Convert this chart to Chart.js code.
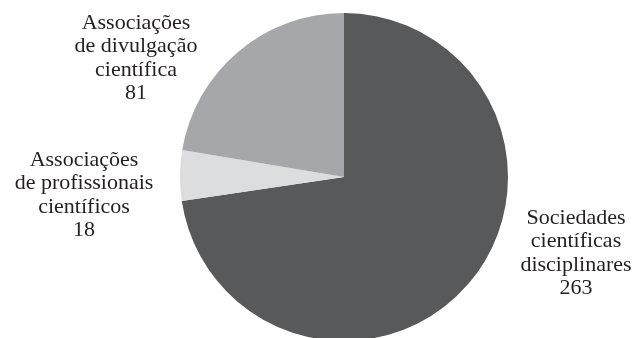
<!DOCTYPE html>
<html><head><meta charset="utf-8">
<script src="https://cdn.jsdelivr.net/npm/chart.js@4.4.1/dist/chart.umd.min.js"></script>
</head>
<body style="margin:0; overflow:hidden; background:#fff">
<canvas id="pieChart" width="639" height="350"></canvas>
<script>
// Sociedades e associações científicas por tipo
const categories = [
    ['Sociedades', 'científicas', 'disciplinares'],
    ['Associações', 'de profissionais', 'científicos'],
    ['Associações', 'de divulgação', 'científica']
];
const counts = [263, 18, 81];
const sliceColors = ['#58595b', '#dcdddf', '#a6a7aa'];

// centre of each text block (canvas px)
const labelAnchors = [
    { x: 576, y: 252 },
    { x: 84, y: 194 },
    { x: 136, y: 57 }
];
const lineH = 23.5;

const outsideLabels = {
    id: 'outsideLabels',
    afterDraw(chart) {
        const ctx = chart.ctx;
        const ds = chart.data.datasets[0];
        ctx.save();
        ctx.font = '22px Times, serif';
        ctx.fillStyle = '#231f20';
        chart.data.labels.forEach((lbl, i) => {
            const lines = lbl.concat(String(ds.data[i]));
            const a = labelAnchors[i];
            const y0 = a.y - (lines.length - 1) * lineH / 2 + 7;
            lines.forEach((t, j) => {
                const w = ctx.measureText(t).width;
                ctx.fillText(t, a.x - w / 2, y0 + j * lineH);
            });
        });
        ctx.restore();
    }
};

new Chart(document.getElementById('pieChart'), {
    type: 'pie',
    data: {
        labels: categories,
        datasets: [{
            data: counts,
            backgroundColor: sliceColors,
            borderWidth: 0
        }]
    },
    options: {
        responsive: false,
        animation: false,
        layout: { padding: { left: 180, right: 131, top: 13, bottom: 9 } },
        plugins: {
            legend: { display: false },
            tooltip: { enabled: false }
        }
    },
    plugins: [outsideLabels]
});
</script>
</body></html>
